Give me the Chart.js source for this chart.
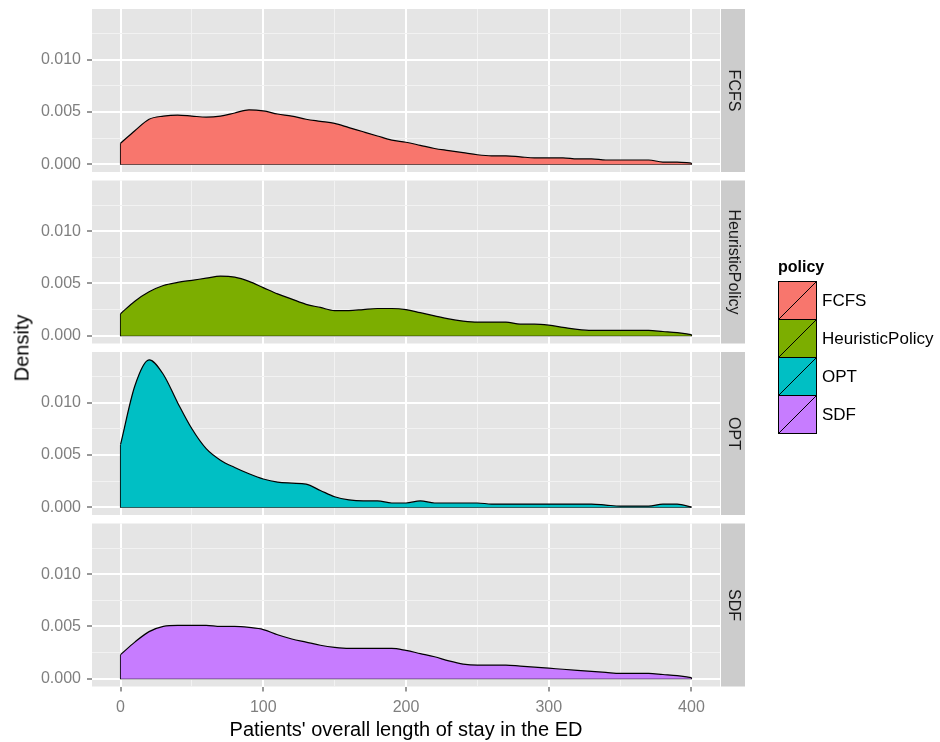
<!DOCTYPE html>
<html>
<head>
<meta charset="utf-8">
<script src="https://cdn.jsdelivr.net/npm/chart.js@4.4.1/dist/chart.umd.min.js"></script>
<style>
  body { margin: 0; background: #fff; font-family: 'Liberation Sans', Arial, sans-serif; }
  #wrap { position: relative; width: 940px; height: 742px; }
  #wrap canvas { position: absolute; left: 0; top: 0; }
  #ytitle { position: absolute; left: 22px; top: 348px; font-size: 20px; color: #000;
            transform: translate(-50%, -50%) rotate(-90deg); white-space: nowrap; }
  #legend { position: absolute; left: 778px; top: 258px; }
  #legend .ttl { font-size: 16px; font-weight: bold; height: 24px; line-height: 18px; }
  #legend .item { display: flex; align-items: center; height: 38px; }
  #legend .key { width: 39px; height: 39px; box-sizing: border-box; border: 1px solid #000; margin-top: -1px; }
  #legend .item:first-of-type .key { margin-top: 0; }
  #legend .lbl { font-size: 17px; color: #000; margin-left: 5px; }
</style>
</head>
<body>
<div id="wrap">
  <canvas id="p0" width="940" height="742"></canvas>
  <canvas id="p1" width="940" height="742"></canvas>
  <canvas id="p2" width="940" height="742"></canvas>
  <canvas id="p3" width="940" height="742"></canvas>
  <div id="ytitle">Density</div>
  <div id="legend"><div class="ttl">policy</div></div>
</div>
<script>
// facets / legend entries
const policies = ['FCFS', 'HeuristicPolicy', 'OPT', 'SDF'];
const colors = ['#F8766D', '#7CAE00', '#00BFC4', '#C77CFF'];

// length of stay (x) where the density was read
const stay = [0, 10, 20, 30, 40, 50, 60, 70, 80, 90, 100, 110, 120, 130, 140, 150, 160, 170, 180, 190,
              200, 210, 220, 230, 240, 250, 260, 270, 280, 290, 300, 310, 320, 330, 340, 350, 360, 370, 380, 390, 400];

const fcfs = [0.0020, 0.0032, 0.0043, 0.0046, 0.0047, 0.0046, 0.0045, 0.0046, 0.0049, 0.0052,
              0.0051, 0.0048, 0.0046, 0.0043, 0.0041, 0.0039, 0.0035, 0.0031, 0.0027, 0.0023,
              0.0021, 0.0018, 0.0015, 0.0013, 0.0011, 0.0009, 0.0008, 0.0008, 0.0007, 0.0006,
              0.0006, 0.0006, 0.0005, 0.0005, 0.0004, 0.0004, 0.0004, 0.0004, 0.0002, 0.0002, 0.0001];
const heuristic = [0.0021, 0.0033, 0.0042, 0.0048, 0.0051, 0.0053, 0.0055, 0.0057, 0.0056, 0.0052,
                   0.0046, 0.0040, 0.0035, 0.0030, 0.0027, 0.0024, 0.0024, 0.0025, 0.0026, 0.0026,
                   0.0025, 0.0022, 0.0019, 0.0016, 0.0014, 0.0013, 0.0013, 0.0013, 0.0011, 0.0011,
                   0.0010, 0.0008, 0.0006, 0.0005, 0.0005, 0.0005, 0.0005, 0.0005, 0.0004, 0.0003, 0.0001];
const opt = [0.0060, 0.0116, 0.0141, 0.0127, 0.0100, 0.0075, 0.0056, 0.0045, 0.0038, 0.0032,
             0.0027, 0.0024, 0.0023, 0.0022, 0.0016, 0.0010, 0.0007, 0.0006, 0.0006, 0.0004,
             0.0004, 0.0006, 0.0004, 0.0004, 0.0004, 0.0004, 0.0003, 0.0003, 0.0003, 0.0003,
             0.0003, 0.0003, 0.0003, 0.0003, 0.0002, 0.0001, 0.0001, 0.0001, 0.0003, 0.0003, 0.0000];
const sdf = [0.0023, 0.0035, 0.0045, 0.0050, 0.0051, 0.0051, 0.0051, 0.0050, 0.0050, 0.0049,
             0.0047, 0.0042, 0.0038, 0.0035, 0.0032, 0.0030, 0.0029, 0.0029, 0.0029, 0.0029,
             0.0027, 0.0024, 0.0021, 0.0017, 0.0014, 0.0013, 0.0013, 0.0013, 0.0012, 0.0011,
             0.0010, 0.0009, 0.0008, 0.0007, 0.0006, 0.0005, 0.0005, 0.0005, 0.0004, 0.0003, 0.0001];
const series = [fcfs, heuristic, opt, sdf];

// tick labels
const xTicks = [0, 100, 200, 300, 400];
const yTicks = [0, 0.005, 0.010];

Chart.defaults.font.family = "'Liberation Sans', Arial, sans-serif";

// x and y tick lists with ggplot-style minor breaks in between
function withMinor(major, upTo) {
  const out = [];
  const step = major[1] - major[0];
  major.forEach(function(v) {
    out.push(v);
    if (v + step / 2 < upTo) out.push(v + step / 2);
  });
  return out;
}
const xAll = withMinor(xTicks, 420);
const yAll = withMinor(yTicks, 0.01485);

// grey panel + facet strip on the right
const panelPlugin = {
  id: 'panel',
  beforeDraw(chart, args, opts) {
    const ctx = chart.ctx;
    const a = chart.chartArea;
    ctx.save();
    ctx.fillStyle = '#E5E5E5';
    ctx.fillRect(a.left, a.top, a.width, a.height);
    ctx.fillStyle = '#CCCCCC';
    ctx.fillRect(a.right + 1, a.top, 24, a.height);
    ctx.translate(a.right + 13, a.top + a.height / 2);
    ctx.rotate(Math.PI / 2);
    ctx.fillStyle = '#1A1A1A';
    ctx.font = "16px 'Liberation Sans', Arial, sans-serif";
    ctx.textAlign = 'center';
    ctx.textBaseline = 'middle';
    ctx.fillText(opts.label, 0, 0);
    ctx.restore();
  }
};

const firstTop = 9;
const pitch = 171.5;
const panelH = 163;
const xAxisH = 55.5;

function gridColor(c) { return c.index % 2 ? '#F2F2F2' : '#FFFFFF'; }
function gridWidth(c) { return c.index % 2 ? 1 : 2; }
function tickColor(c) { return c.index % 2 ? 'rgba(0,0,0,0)' : '#333333'; }
function noPad(s) { s.paddingTop = 0; s.paddingBottom = 0; s.paddingLeft = 0; s.paddingRight = 0; }

function makeChart(i) {
  const last = i === policies.length - 1;
  const top = firstTop + i * pitch;
  const vals = series[i];
  const n = stay.length;
  const curve = stay.map(function(x, k) { return { x: x, y: vals[k] }; });
  // closes the polygon: left edge, baseline, right edge
  const outline = [
    { x: stay[0], y: vals[0] }, { x: stay[0], y: 0 },
    { x: stay[n - 1], y: 0 }, { x: stay[n - 1], y: vals[n - 1] }
  ];

  return new Chart(document.getElementById('p' + i), {
    type: 'line',
    data: {
      datasets: [
        {
          data: curve,
          fill: 'origin',
          backgroundColor: colors[i],
          borderColor: '#000000',
          borderWidth: 1.2,
          pointRadius: 0,
          cubicInterpolationMode: 'monotone'
        },
        {
          data: outline,
          fill: false,
          borderColor: '#000000',
          borderWidth: 1.2,
          pointRadius: 0,
          tension: 0
        }
      ]
    },
    options: {
      responsive: false,
      animation: false,
      devicePixelRatio: 1,
      events: [],
      layout: {
        padding: { left: 0, right: 940 - 720, top: top, bottom: 742 - (top + panelH) - (last ? xAxisH : 0) }
      },
      plugins: {
        legend: { display: false },
        tooltip: { enabled: false },
        panel: { label: policies[i] }
      },
      scales: {
        x: {
          type: 'linear',
          min: -20,
          max: 420,
          afterBuildTicks: function(s) { s.ticks = xAll.map(function(v) { return { value: v }; }); },
          afterFit: function(s) { s.height = last ? xAxisH : 0; noPad(s); },
          border: { display: false },
          grid: { color: gridColor, lineWidth: gridWidth, tickColor: tickColor, tickWidth: 1,
                  tickLength: 5, drawTicks: last },
          ticks: {
            display: last,
            autoSkip: false,
            maxRotation: 0,
            padding: 6,
            color: '#7F7F7F',
            font: { size: 16 },
            callback: function(v, idx) { return idx % 2 ? '' : String(v); }
          },
          title: {
            display: last,
            text: "Patients' overall length of stay in the ED",
            color: '#000000',
            font: { size: 20 },
            padding: 0
          }
        },
        y: {
          min: -0.00075,
          max: 0.01485,
          afterBuildTicks: function(s) { s.ticks = yAll.map(function(v) { return { value: v }; }); },
          afterFit: function(s) { s.width = 92; noPad(s); },
          border: { display: false },
          grid: { color: gridColor, lineWidth: gridWidth, tickColor: tickColor, tickWidth: 1, tickLength: 5 },
          ticks: {
            autoSkip: false,
            padding: 6,
            color: '#7F7F7F',
            font: { size: 16 },
            callback: function(v, idx) { return idx % 2 ? '' : v.toFixed(3); }
          }
        }
      }
    },
    plugins: [panelPlugin]
  });
}

policies.forEach(function(p, i) { makeChart(i); });

// legend
const legend = document.getElementById('legend');
policies.forEach(function(p, i) {
  const item = document.createElement('div');
  item.className = 'item';
  const key = document.createElement('div');
  key.className = 'key';
  key.style.background = 'linear-gradient(to bottom right, transparent calc(50% - 0.7px), #000 calc(50% - 0.7px), #000 calc(50% + 0.7px), transparent calc(50% + 0.7px)), ' + colors[i];
  const lbl = document.createElement('span');
  lbl.className = 'lbl';
  lbl.textContent = p;
  item.appendChild(key);
  item.appendChild(lbl);
  legend.appendChild(item);
});
</script>
</body>
</html>
